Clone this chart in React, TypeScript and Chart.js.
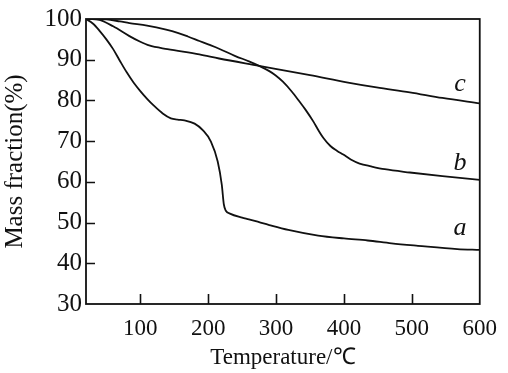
import React, { useEffect, useRef } from "react";
import { Chart, registerables } from "chart.js";

Chart.register(...registerables);

// ---- Data ----
const tempA = [20, 30, 40, 50, 60, 70, 80, 90, 100, 110, 120, 133, 145, 155, 165, 180, 192, 204, 214, 220, 223, 226, 232, 250, 260, 275, 290, 318, 362, 400, 435, 470, 509, 567, 600];
const massA = [100, 98.9, 97.1, 95.0, 92.6, 89.7, 86.9, 84.4, 82.3, 80.4, 78.7, 76.8, 75.6, 75.3, 75.1, 74.3, 72.7, 69.9, 65.0, 59.3, 54.5, 52.9, 52.2, 51.2, 50.8, 50.1, 49.4, 48.2, 46.8, 46.1, 45.6, 44.9, 44.3, 43.5, 43.3];

const tempB = [20, 50, 70, 84, 110, 138, 155, 170, 187, 201, 216, 240, 260, 275, 290, 299, 310, 323, 335, 343, 355, 363, 370, 380, 390, 399, 410, 423, 440, 460, 497, 545, 600];
const massB = [100, 99.9, 99.4, 99.0, 98.4, 97.4, 96.6, 95.7, 94.6, 93.7, 92.7, 90.9, 89.6, 88.5, 87.2, 86.2, 84.6, 82.2, 79.6, 77.8, 74.8, 72.5, 70.7, 68.8, 67.6, 66.7, 65.5, 64.5, 63.8, 63.1, 62.3, 61.4, 60.5];

const tempC = [20, 30, 40, 60, 84, 100, 113, 140, 187, 216, 275, 350, 406, 448, 497, 545, 600];
const massC = [100, 100, 99.8, 98.2, 95.8, 94.4, 93.5, 92.6, 91.3, 90.3, 88.5, 86.2, 84.4, 83.2, 82.0, 80.6, 79.3];

const xTicks = [100, 200, 300, 400, 500, 600];
const yTicks = [30, 40, 50, 60, 70, 80, 90, 100];
const xTickMarks = [100, 200, 300, 400, 500];
const yTickMarks = [40, 50, 60, 70, 80, 90];

const curveLabels = ["a", "b", "c"];
const labelTemp = [571, 571, 571];
const labelMass = [47.0, 62.8, 82.4];

const FONT = '"Liberation Serif", "Times New Roman", serif';
const INK = "#111";

const toPoints = (xs: number[], ys: number[]) => xs.map((x, i) => ({ x, y: ys[i] }));

const framePlugin = {
  id: "frameAndMarks",
  afterDraw(chart: any) {
    const { ctx, chartArea, scales } = chart;
    const { left, right, top, bottom } = chartArea;
    const x = scales.x;
    const y = scales.y;
    ctx.save();
    ctx.strokeStyle = INK;
    ctx.lineWidth = 1.8;
    ctx.strokeRect(left, top, right - left, bottom - top);
    ctx.lineWidth = 1.6;
    ctx.beginPath();
    for (const v of xTickMarks) {
      const px = Math.round(x.getPixelForValue(v)) + 0.5;
      ctx.moveTo(px, bottom);
      ctx.lineTo(px, bottom - 10);
    }
    for (const v of yTickMarks) {
      const py = Math.round(y.getPixelForValue(v)) + 0.5;
      ctx.moveTo(left, py);
      ctx.lineTo(left + 9, py);
    }
    ctx.stroke();
    ctx.font = `italic 26px ${FONT}`;
    ctx.fillStyle = INK;
    ctx.textAlign = "center";
    ctx.textBaseline = "alphabetic";
    curveLabels.forEach((t, i) => {
      ctx.fillText(t, x.getPixelForValue(labelTemp[i]), y.getPixelForValue(labelMass[i]));
    });
    ctx.restore();
  },
};

export default function App() {
  const canvasRef = useRef<HTMLCanvasElement | null>(null);

  useEffect(() => {
    const canvas = canvasRef.current;
    if (!canvas) return;
    const lineStyle = {
      borderColor: INK,
      borderWidth: 1.8,
      pointRadius: 0,
      fill: false,
      cubicInterpolationMode: "monotone" as const,
    };
    const chart = new Chart(canvas, {
      type: "line",
      data: {
        datasets: [
          { label: "a", data: toPoints(tempA, massA), ...lineStyle },
          { label: "b", data: toPoints(tempB, massB), ...lineStyle },
          { label: "c", data: toPoints(tempC, massC), ...lineStyle },
        ],
      },
      options: {
        animation: false,
        responsive: false,
        devicePixelRatio: 1,
        parsing: false as any,
        layout: { padding: { top: 16, right: 25, left: 0, bottom: 0 } },
        plugins: { legend: { display: false }, tooltip: { enabled: false } },
        scales: {
          x: {
            type: "linear",
            min: 20,
            max: 600,
            afterBuildTicks: (s: any) => {
              s.ticks = xTicks.map((v) => ({ value: v }));
            },
            afterFit: (s: any) => {
              s.height = 69;
            },
            ticks: {
              font: { family: FONT, size: 23 },
              color: INK,
              padding: 11,
              maxRotation: 0,
              autoSkip: false,
            },
            grid: { display: false, drawTicks: false },
            border: { display: false },
            title: {
              display: true,
              text: "Temperature/℃",
              font: { family: FONT, size: 23 },
              color: INK,
              padding: { top: 0, bottom: 1 },
            },
          },
          y: {
            type: "linear",
            min: 30,
            max: 100,
            afterBuildTicks: (s: any) => {
              s.ticks = yTicks.map((v) => ({ value: v }));
            },
            afterFit: (s: any) => {
              s.width = 86;
            },
            ticks: {
              font: { family: FONT, size: 25 },
              color: INK,
              padding: 4,
              autoSkip: false,
            },
            grid: { display: false, drawTicks: false },
            border: { display: false },
            title: {
              display: true,
              text: "Mass fraction(%)",
              font: { family: FONT, size: 25 },
              color: INK,
              padding: { top: 0, bottom: 0 },
            },
          },
        },
      },
      plugins: [framePlugin],
    });
    return () => chart.destroy();
  }, []);

  return (
    <div style={{ position: "absolute", left: 0, top: 0, width: 508, height: 373, background: "#fff" }}>
      <canvas ref={canvasRef} width={508} height={373} style={{ display: "block" }} />
    </div>
  );
}
